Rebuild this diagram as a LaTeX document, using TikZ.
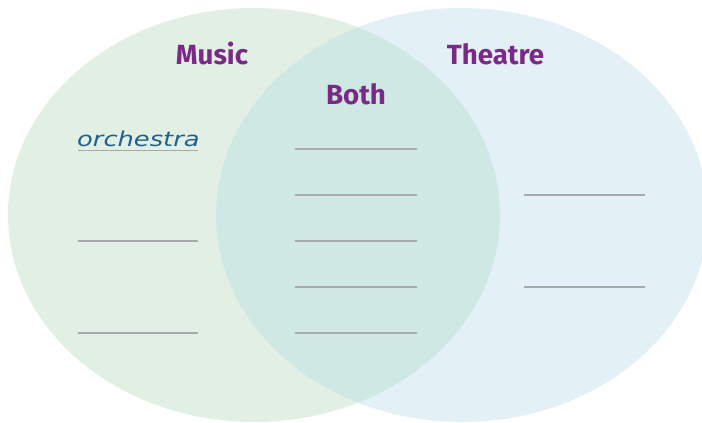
\documentclass[tikz,border=0pt]{standalone}
\usepackage{fontspec}
\setmainfont{Fira Sans}
\newfontfamily\handfont{DejaVu Sans}
\definecolor{musicfill}{HTML}{E2EFE5}
\definecolor{theatrefill}{HTML}{E3F0F6}
\definecolor{bothfill}{HTML}{CFE8E3}
\definecolor{titlepurple}{HTML}{7A2A86}
\definecolor{handblue}{HTML}{21608C}
\definecolor{linegray}{HTML}{A6AAAA}
\tikzset{
  title/.style={font=\fontsize{27.8}{31}\selectfont\bfseries, text=titlepurple, inner sep=0pt, anchor=base},
  blank/.style={draw=linegray, line width=1.6bp},
  hand/.style={font=\handfont\fontsize{20.5}{24}\selectfont\itshape, text=handblue, inner sep=0pt, anchor=base west}
}
\begin{document}
\begin{tikzpicture}[x=1bp,y=-1bp]
\useasboundingbox (0,0) rectangle (702,422);
% ellipses
\fill[musicfill] (254,215) ellipse [x radius=246, y radius=207];
\fill[theatrefill] (462,215) ellipse [x radius=246, y radius=207];
\begin{scope}
  \clip (254,215) ellipse [x radius=246, y radius=207];
  \fill[bothfill] (462,215) ellipse [x radius=246, y radius=207];
\end{scope}
% titles
\node[title] (music) at (212,64.5) {Music};
\node[title] (theatre) at (495.5,64.5) {Theatre};
\node[title] (both) at (356,104) {Both};
% handwritten entry
\node[hand] (orch) at (77,146.5) {\scalebox{1.26}[1]{orchestra}};
% blank lines: left
\coordinate (l1a) at (78,150.5); \coordinate (l1b) at (198,150.5);
\coordinate (l2a) at (78,240.7); \coordinate (l2b) at (198,240.7);
\coordinate (l3a) at (78,332.7); \coordinate (l3b) at (198,332.7);
\draw[blank] (l1a) -- (l1b);
\draw[blank] (l2a) -- (l2b);
\draw[blank] (l3a) -- (l3b);
% middle
\coordinate (m1a) at (295,148.7); \coordinate (m1b) at (416.5,148.7);
\coordinate (m2a) at (295,194.7); \coordinate (m2b) at (416.5,194.7);
\coordinate (m3a) at (295,240.7); \coordinate (m3b) at (416.5,240.7);
\coordinate (m4a) at (295,286.7); \coordinate (m4b) at (416.5,286.7);
\coordinate (m5a) at (295,332.7); \coordinate (m5b) at (416.5,332.7);
\draw[blank] (m1a) -- (m1b);
\draw[blank] (m2a) -- (m2b);
\draw[blank] (m3a) -- (m3b);
\draw[blank] (m4a) -- (m4b);
\draw[blank] (m5a) -- (m5b);
% right
\coordinate (r1a) at (524,194.7); \coordinate (r1b) at (645,194.7);
\coordinate (r2a) at (524,286.7); \coordinate (r2b) at (645,286.7);
\draw[blank] (r1a) -- (r1b);
\draw[blank] (r2a) -- (r2b);
\end{tikzpicture}
\end{document}
